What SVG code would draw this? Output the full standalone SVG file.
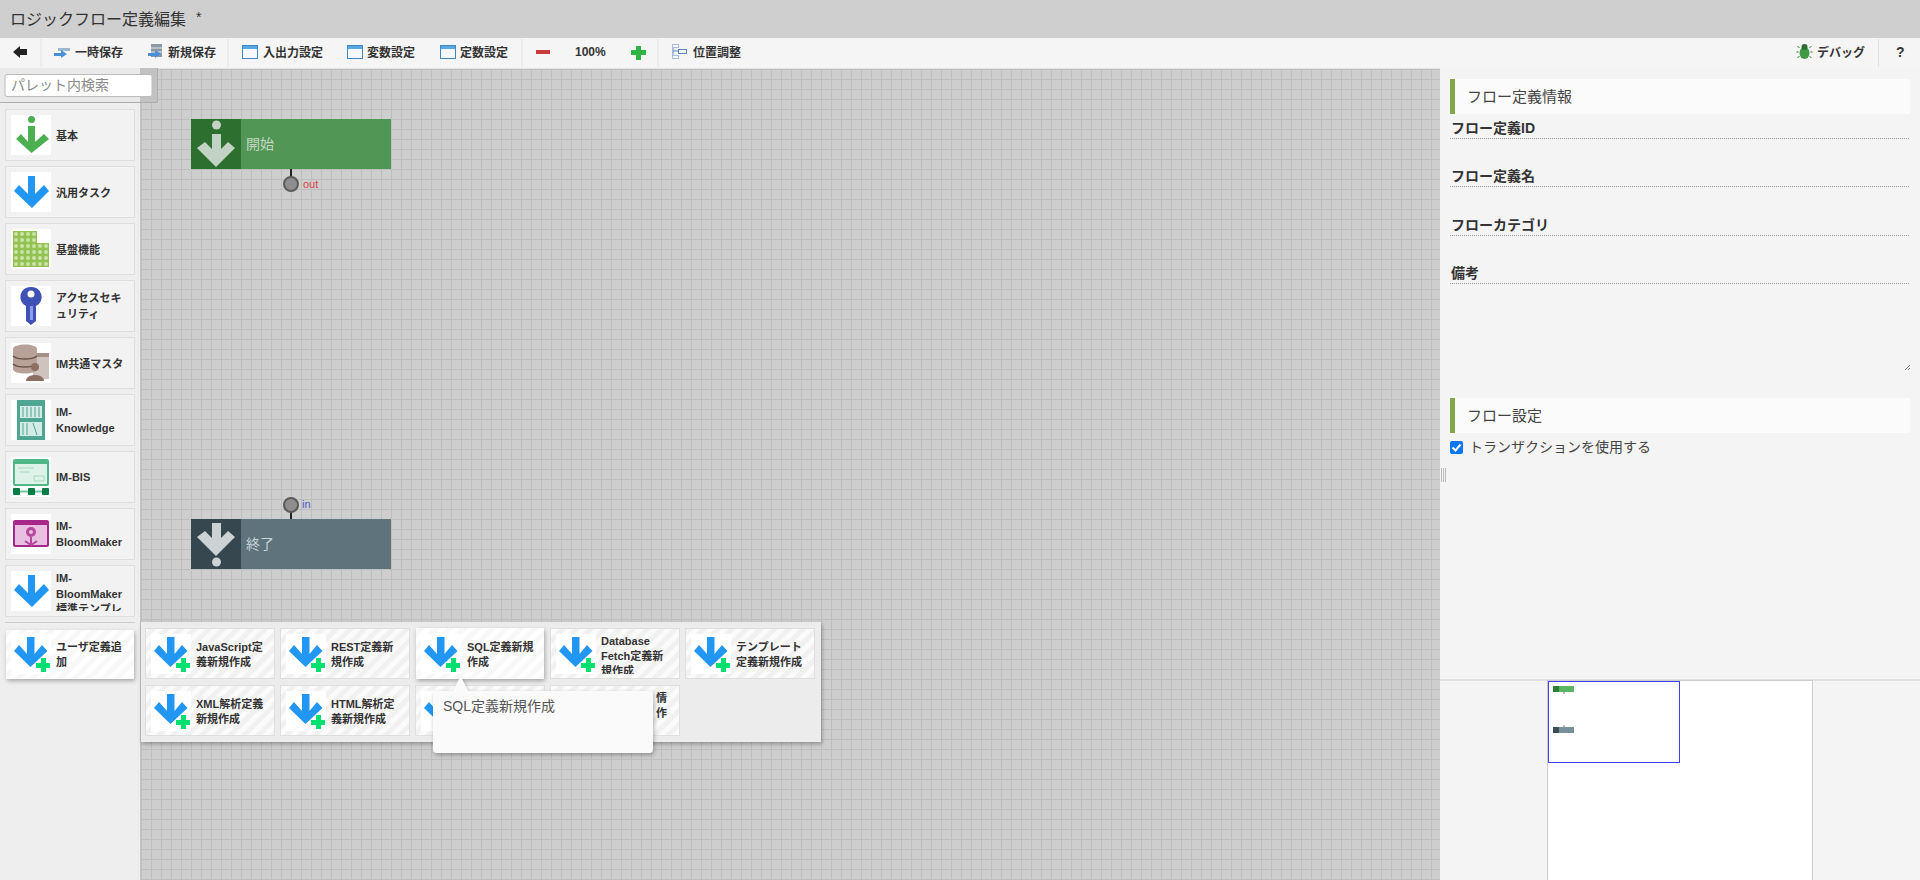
<svg xmlns="http://www.w3.org/2000/svg" width="1920" height="880" viewBox="0 0 1920 880">
<style>
text{font-family:"Liberation Sans","Noto Sans CJK JP",sans-serif;fill:#333}
.tb{font-size:12px;font-weight:bold}
.pl{font-size:11px;font-weight:bold}
.lab{font-size:14px;font-weight:bold;fill:#333}
.sec{font-size:15px;fill:#444}
.item{fill:#f2f2f2;stroke:#dedede;stroke-width:1}
.hatch{fill:url(#stripes);stroke:#dedede;stroke-width:1}
.dot{stroke:#999;stroke-width:1;stroke-dasharray:1 1;fill:none}
.win{fill:#f6f9fc;stroke:#3f88c5;stroke-width:1}
.port{fill:#8e8e8e;stroke:#5c5c5c;stroke-width:2}
.stem{stroke:#222;stroke-width:2;fill:none}
</style>
<defs>
<pattern id="grid" width="10" height="10" patternUnits="userSpaceOnUse" x="1" y="-1">
<rect width="10" height="10" fill="#cecece"/>
<path d="M0.5 0V10M0 .5H10" stroke="#bebebe" stroke-width="1"/>
</pattern>
<pattern id="stripes" width="10" height="10" patternUnits="userSpaceOnUse" patternTransform="rotate(45)">
<rect width="10" height="10" fill="#fbfbfb"/>
<rect width="5" height="10" fill="#f1f1f1"/>
</pattern>
<pattern id="stripes2" width="10" height="10" patternUnits="userSpaceOnUse" patternTransform="rotate(45)">
<rect width="10" height="10" fill="#ffffff"/>
<rect width="5" height="10" fill="#f8f8f8"/>
</pattern>
<pattern id="blockdots" width="6" height="6" patternUnits="userSpaceOnUse" x="13" y="231">
<rect width="6" height="6" fill="#93c253"/>
<circle cx="3" cy="3" r="2" fill="#c9e3a5"/>
</pattern>
<g id="arrow"><rect width="40" height="40" fill="#fff"/><path d="M17 4H24V22L33 13L38 19L21 36L3 19L8 13L17 22Z" fill="#2196f3"/></g>
<g id="arrowplus"><rect width="40" height="40" fill="#fff"/><path d="M16 3H23.500V20L31 11L36.500 17L19.500 33L3 17L8 11L16 20Z" fill="#2196f3"/><path d="M30 24H35V29H39V34H35V38H30V34H25V29H30Z" fill="#00e070"/></g>
<g id="win"><rect class="win" x=".5" y=".5" width="15" height="13"/><rect x="1" y="1" width="14" height="3" fill="#58a8e4"/></g>
<g id="save"><path d="M0 9H7V6L13 10L7 14V12H0Z" fill="#4a90d9"/></g>
<filter id="sh" x="-10%" y="-10%" width="120%" height="125%"><feDropShadow dx="1" dy="2" stdDeviation="2" flood-color="#000" flood-opacity=".3"/></filter>
<clipPath id="c9"><rect x="5" y="565" width="129" height="46"/></clipPath>
<clipPath id="cdb"><rect x="550" y="628" width="129" height="46"/></clipPath>
</defs>

<rect width="1920" height="880" fill="#f4f4f4"/>
<rect x="0" y="0" width="1920" height="38" fill="#cfcfcf"/>
<rect x="140" y="68" width="1300" height="812" fill="url(#grid)"/>

<g id="titlebar"><text x="10" y="25" font-size="16" fill="#333">ロジックフロー定義編集</text><text x="196" y="22" font-size="14" fill="#333">*</text></g>

<g id="toolbar">
<rect x="0" y="38" width="1920" height="30" fill="#f5f5f5"/>
<path d="M0 68.500H1920" stroke="#e6e6e6"/>
<path d="M41 39V67M228 39V67M522 39V67M658 39V67M1878.500 39V67" stroke="#e2e2e2"/>
<path d="M13 52L20 46V49H27V55H20V58Z" fill="#222"/>
<g transform="translate(54,44)"><path d="M4 4H16V7H4Z" fill="#9db7cf"/><use href="#save"/></g><text class="tb" x="75" y="57">一時保存</text>
<g transform="translate(148,44)"><rect x="3" y="0" width="11" height="13" fill="#8c98a4"/><path d="M3 4H14M3 8H14" stroke="#dfe5ea"/><use href="#save"/></g><text class="tb" x="168" y="57">新規保存</text>
<use href="#win" x="242" y="45"/><text class="tb" x="263" y="57">入出力設定</text>
<use href="#win" x="347" y="45"/><text class="tb" x="367" y="57">変数設定</text>
<use href="#win" x="440" y="45"/><text class="tb" x="460" y="57">定数設定</text>
<rect x="536" y="50" width="14" height="4" fill="#c93a3a"/>
<text class="tb" x="575" y="56">100%</text>
<path d="M636 46H641V50H646V55H641V60H636V55H631V50H636Z" fill="#2fb344"/>
<g transform="translate(672,44)" fill="none" stroke="#5b83c4"><rect x=".5" y=".5" width="6" height="3" stroke-dasharray="1 1"/><rect x="6.500" y="5.500" width="8" height="4"/><rect x=".5" y="11.500" width="6" height="3" stroke-dasharray="1 1"/><path d="M1 4V11M1 7H6"/></g><text class="tb" x="693" y="57">位置調整</text>
<g transform="translate(1804.500,52)"><path d="M-5-4L-7-6M5-4L7-6M-6 0H-8M6 0H8M-5 4L-7 6M5 4L7 6" stroke="#3d7a3a" stroke-width="1"/><ellipse rx="5" ry="6" cy="1" fill="#3f9a45"/><circle cy="-5" r="3" fill="#2f6f33"/></g>
<text class="tb" x="1817" y="57">デバッグ</text>
<text x="1896" y="57" font-size="14" font-weight="bold" fill="#444">?</text>
</g>

<g id="palette">
<rect x="0" y="68" width="140" height="812" fill="#eeeeee"/>
<path d="M140.500 68V880" stroke="#c4c4c4"/>
<rect x="0" y="68" width="140" height="34" fill="#e9e9e9"/>
<rect x="140" y="68" width="18" height="34" fill="#c2c2c2"/>
<path d="M157.500 68V102.500H0" fill="none" stroke="#adadad"/>
<rect x="5" y="74.500" width="147" height="22" rx="2" fill="#fff" stroke="#bbb"/>
<text x="11" y="90" font-size="14" style="fill:#8a8a8a">パレット内検索</text>

<g id="pal-basic"><rect class="item" x="5.500" y="109.500" width="129" height="51"/><rect x="11" y="115" width="40" height="40" fill="#fff"/><circle cx="31.500" cy="119.500" r="3.500" fill="#4caf50"/><path d="M28 126H35V142L44 134L49 139L31.500 153L16 139L21 134L28 142Z" fill="#4caf50"/><text class="pl" x="56" y="140">基本</text></g>
<g id="pal-task"><rect class="item" x="5.500" y="166.500" width="129" height="51"/><use href="#arrow" x="11" y="172"/><text class="pl" x="56" y="197">汎用タスク</text></g>
<g id="pal-base"><rect class="item" x="5.500" y="223.500" width="129" height="51"/><rect x="11" y="229" width="40" height="40" fill="#fff"/><path d="M13 231H37V243H49V267H13Z" fill="url(#blockdots)"/><text class="pl" x="56" y="254">基盤機能</text></g>
<g id="pal-access"><rect class="item" x="5.500" y="280.500" width="129" height="51"/><rect x="11" y="286" width="40" height="40" fill="#fff"/><path d="M31 287A10 10 0 0 1 36 306V321L31 325L26 321V306A10 10 0 0 1 31 287Z" fill="#3f51b5"/><circle cx="31" cy="294" r="3.500" fill="#fff"/><rect x="30" y="306" width="3" height="14" fill="#8c9eeb"/><text class="pl" x="56" y="302">アクセスセキ</text><text class="pl" x="56" y="318">ュリティ</text></g>
<g id="pal-master"><rect class="item" x="5.500" y="337.500" width="129" height="51"/><rect x="11" y="343" width="40" height="40" fill="#fff"/><rect x="33" y="353" width="16" height="26" fill="#cfc3bd"/><rect x="31" y="353" width="18" height="4" fill="#a58f85"/><path d="M13 349C13 343 37 343 37 349V369C37 375 13 375 13 369Z" fill="#b7a198"/><path d="M13 356C18 360 32 360 37 356M13 364C18 368 32 368 37 364" stroke="#6d5248" stroke-width="1.500" fill="none"/><circle cx="35" cy="367" r="4" fill="#8d6e63"/><path d="M26 381C26 373 44 373 44 381Z" fill="#8d6e63"/><text class="pl" x="56" y="367.500">IM共通マスタ</text></g>
<g id="pal-knowledge"><rect class="item" x="5.500" y="394.500" width="129" height="51"/><rect x="11" y="400" width="40" height="40" fill="#fff"/><rect x="17" y="400" width="28" height="40" fill="#4da592"/><rect x="20" y="406" width="22" height="12" fill="#d5ebe6"/><rect x="20" y="422" width="22" height="14" fill="#d5ebe6"/><path d="M23 407V417M27 407V417M31 407V417M35 407V417M39 407V417M23 423V435M27 423V435M33 423L37 435" stroke="#4da592"/><text class="pl" x="56" y="416">IM-</text><text class="pl" x="56" y="432">Knowledge</text></g>
<g id="pal-bis"><rect class="item" x="5.500" y="451.500" width="129" height="51"/><rect x="11" y="457" width="40" height="40" fill="#fff"/><rect x="13" y="459" width="36" height="27" rx="2" fill="#52b788"/><rect x="15" y="464" width="32" height="20" fill="#dff2e9"/><path d="M18 468H34M20 472H30M34 476H44V481H34Z" stroke="#a5d9bf" fill="none"/><rect x="13" y="488" width="7" height="7" rx="1" fill="#0a7c45"/><rect x="28" y="488" width="7" height="7" rx="1" fill="#0a7c45"/><rect x="42" y="488" width="7" height="7" rx="1" fill="#0a7c45"/><path d="M20 491.500H28M35 491.500H42" stroke="#6fc79b" stroke-width="2"/><text class="pl" x="56" y="481">IM-BIS</text></g>
<g id="pal-bloom"><rect class="item" x="5.500" y="508.500" width="129" height="51"/><rect x="11" y="514" width="40" height="40" fill="#fff"/><rect x="13" y="520" width="36" height="27" rx="2" fill="#a8288a"/><rect x="15" y="525" width="32" height="20" fill="#e9bfe1"/><circle cx="31" cy="532" r="5" fill="#b5479f"/><circle cx="31" cy="532" r="2" fill="#e9bfe1"/><path d="M31 537V545M25 541L31 545L37 541" stroke="#b5479f" stroke-width="2" fill="none"/><text class="pl" x="56" y="530">IM-</text><text class="pl" x="56" y="546">BloomMaker</text></g>
<g id="pal-template"><rect class="item" x="5.500" y="565.500" width="129" height="51"/><use href="#arrow" x="11" y="571"/><g clip-path="url(#c9)"><text class="pl" x="56" y="582">IM-</text><text class="pl" x="56" y="598">BloomMaker</text><text class="pl" x="56" y="613">標準テンプレ</text></g></g>
<path d="M5 622.500H135" stroke="#cfcfcf"/>
<g id="pal-user"><rect x="6" y="630" width="128" height="49" fill="url(#stripes2)" filter="url(#sh)"/><use href="#arrowplus" x="11" y="634"/><text class="pl" x="56" y="651">ユーザ定義追</text><text class="pl" x="56" y="666">加</text></g>
</g>

<g id="node-start">
<rect x="191" y="119" width="200" height="50" fill="#519655"/>
<rect x="191" y="119" width="50" height="50" fill="#2d6f2e"/>
<circle cx="216.500" cy="125" r="4.500" fill="#c2d2c4"/>
<path d="M212 134H221V149L228 142L235 148L216 167L197 148L205 142L212 149Z" fill="#c2d2c4"/>
<text x="246" y="149" font-size="14" style="fill:#c3d6c5">開始</text>
</g>
<g id="node-end">
<rect x="191" y="519" width="200" height="50" fill="#5f737d"/>
<rect x="191" y="519" width="50" height="50" fill="#36474f"/>
<path d="M212 523H221V538L228 531L235 537L216 556L197 537L205 531L212 538Z" fill="#cdd2d4"/>
<circle cx="216.500" cy="562" r="4.500" fill="#cdd2d4"/>
<text x="246" y="549" font-size="14" style="fill:#c9d3d8">終了</text>
</g>
<g id="connectors">
<path class="stem" d="M291 169V177"/>
<path class="stem" d="M291 512V519"/>
</g>
<g id="port-out"><circle class="port" cx="291" cy="184" r="7"/><text x="303" y="188" font-size="11" style="fill:#d9434e">out</text></g>
<g id="port-in"><circle class="port" cx="291" cy="505" r="7"/><text x="302" y="508" font-size="11" style="fill:#4a5fd0">in</text></g>

<g id="flyout">
<rect x="141" y="622" width="680" height="120" fill="#ececec" filter="url(#sh)"/>
<g id="fly-js"><rect class="hatch" x="145.500" y="628.500" width="129" height="50"/><use href="#arrowplus" x="151" y="634"/><text class="pl" x="196" y="651">JavaScript定</text><text class="pl" x="196" y="666">義新規作成</text></g>
<g id="fly-rest"><rect class="hatch" x="280.500" y="628.500" width="129" height="50"/><use href="#arrowplus" x="286" y="634"/><text class="pl" x="331" y="651">REST定義新</text><text class="pl" x="331" y="666">規作成</text></g>
<g id="fly-sql"><rect x="416" y="628" width="128" height="51" fill="url(#stripes2)" filter="url(#sh)"/><use href="#arrowplus" x="421" y="634"/><text class="pl" x="467" y="651">SQL定義新規</text><text class="pl" x="467" y="666">作成</text></g>
<g id="fly-db"><rect class="hatch" x="550.500" y="628.500" width="129" height="50"/><use href="#arrowplus" x="556" y="634"/><g clip-path="url(#cdb)"><text class="pl" x="601" y="645">Database</text><text class="pl" x="601" y="660">Fetch定義新</text><text class="pl" x="601" y="675">規作成</text></g></g>
<g id="fly-tpl"><rect class="hatch" x="685.500" y="628.500" width="129" height="50"/><use href="#arrowplus" x="691" y="634"/><text class="pl" x="736" y="651">テンプレート</text><text class="pl" x="736" y="666">定義新規作成</text></g>
<g id="fly-xml"><rect class="hatch" x="145.500" y="685.500" width="129" height="50"/><use href="#arrowplus" x="151" y="691"/><text class="pl" x="196" y="708">XML解析定義</text><text class="pl" x="196" y="723">新規作成</text></g>
<g id="fly-html"><rect class="hatch" x="280.500" y="685.500" width="129" height="50"/><use href="#arrowplus" x="286" y="691"/><text class="pl" x="331" y="708">HTML解析定</text><text class="pl" x="331" y="723">義新規作成</text></g>
<g id="fly-hidden1"><rect class="hatch" x="415.500" y="685.500" width="129" height="50"/><use href="#arrowplus" x="421" y="691"/></g>
<g id="fly-hidden2"><rect class="hatch" x="550.500" y="685.500" width="129" height="50"/><text class="pl" x="656" y="702">情</text><text class="pl" x="656" y="717">作</text></g>
</g>
<g id="tooltip" filter="url(#sh)">
<path d="M433 695Q433 691 437 691H453L460.500 676L468 691H649Q653 691 653 695V749Q653 753 649 753H437Q433 753 433 749Z" fill="#fafafa"/>
</g>
<text x="443" y="711" font-size="14" style="fill:#555">SQL定義新規作成</text>

<g id="props">
<rect x="1440" y="68" width="480" height="812" fill="#f4f4f4"/>
<rect x="1450" y="79" width="460" height="35" fill="#fbfbfb"/><rect x="1450" y="79" width="5" height="35" fill="#82a84a"/>
<text class="sec" x="1467" y="102">フロー定義情報</text>
<text class="lab" x="1451" y="133">フロー定義ID</text><path class="dot" d="M1450 138.500H1910"/>
<text class="lab" x="1451" y="181">フロー定義名</text><path class="dot" d="M1450 186.500H1910"/>
<text class="lab" x="1451" y="230">フローカテゴリ</text><path class="dot" d="M1450 235.500H1910"/>
<text class="lab" x="1451" y="278">備考</text><path class="dot" d="M1450 283.500H1910"/>
<path d="M1905 370L1910 365M1908 370L1910 368" stroke="#777"/>
<rect x="1450" y="398" width="460" height="35" fill="#fbfbfb"/><rect x="1450" y="398" width="5" height="35" fill="#82a84a"/>
<text class="sec" x="1467" y="421">フロー設定</text>
<rect x="1450" y="441" width="13" height="13" rx="2" fill="#0b76f0"/><path d="M1452.500 447.500L1455.500 450.500L1460.500 444.500" stroke="#fff" stroke-width="2" fill="none"/>
<text x="1469" y="452" font-size="14" style="fill:#444">トランザクションを使用する</text>
<path d="M1441.500 468V482M1443.500 468V482M1445.500 468V482" stroke="#bbb"/>
</g>

<g id="minimap">
<path d="M1440 680H1920" stroke="#ccc"/>
<rect x="1547.500" y="680.500" width="265" height="200" fill="#fff" stroke="#ccc"/>
<rect x="1553" y="686" width="21" height="6" fill="#5cb564"/><rect x="1553" y="686" width="6" height="6" fill="#2d7f33"/>
<rect x="1563" y="692" width="2" height="2" fill="#bbb"/>
<rect x="1553" y="727" width="21" height="6" fill="#78909c"/><rect x="1553" y="727" width="6" height="6" fill="#3c4f58"/>
<rect x="1563" y="725" width="2" height="2" fill="#bbb"/>
<rect x="1548.500" y="681.500" width="131" height="81" fill="none" stroke="#3f3fff" stroke-width="1"/>
</g>
</svg>
